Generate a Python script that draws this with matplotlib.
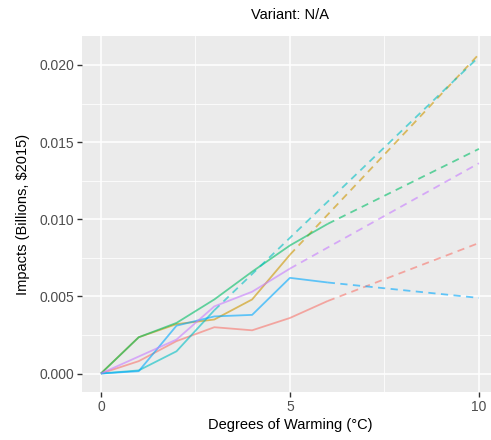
import matplotlib
matplotlib.use("Agg")
import matplotlib.pyplot as plt

plt.rcParams['font.family'] = ['Liberation Sans', 'DejaVu Sans']

# solid part (observed) and dashed part (extrapolated) of each line
red_x = [0, 1, 2, 3, 4, 5, 6]
red_y = [0.0, 0.0008, 0.0021, 0.0030, 0.0028, 0.0036, 0.0047]
red_dx = [6, 10]
red_dy = [0.0047, 0.00846]

gold_x = [0, 1, 2, 3, 4, 5]
gold_y = [0.0, 0.00235, 0.0032, 0.0035, 0.0048, 0.0077]
gold_dx = [5, 10]
gold_dy = [0.0077, 0.0207]

green_x = [0, 1, 2, 3, 4, 5, 6]
green_y = [0.0, 0.00235, 0.00328, 0.0048, 0.0066, 0.0083, 0.0097]
green_dx = [6, 10]
green_dy = [0.0097, 0.01456]

cyan_x = [0, 1, 2, 3]
cyan_y = [0.0, 0.0002, 0.00144, 0.0041]
cyan_dx = [3, 10]
cyan_dy = [0.0041, 0.02053]

blue_x = [0, 1, 2, 3, 4, 5, 6]
blue_y = [0.0, 0.00015, 0.0031, 0.0037, 0.0038, 0.0062, 0.0059]
blue_dx = [6, 10]
blue_dy = [0.0059, 0.0049]

purple_x = [0, 1, 2, 3, 4, 5]
purple_y = [0.0, 0.0011, 0.0022, 0.00435, 0.0053, 0.0068]
purple_dx = [5, 10]
purple_dy = [0.0068, 0.01363]

series = [
    (red_x, red_y, red_dx, red_dy, '#F8766D'),
    (gold_x, gold_y, gold_dx, gold_dy, '#CD9600'),
    (green_x, green_y, green_dx, green_dy, '#00BE67'),
    (cyan_x, cyan_y, cyan_dx, cyan_dy, '#00BFC4'),
    (blue_x, blue_y, blue_dx, blue_dy, '#00A9FF'),
    (purple_x, purple_y, purple_dx, purple_dy, '#C77CFF'),
]

fig = plt.figure(figsize=(4.91, 4.40), dpi=100)
ax = fig.add_axes([0.167, 0.108, 0.847, 0.811])
ax.set_facecolor('#EBEBEB')

for x, y, dx, dy, c in series:
    ax.plot(x, y, color=c, lw=1.3, alpha=0.6, solid_capstyle='butt')
    ax.plot(dx, dy, color=c, lw=1.3, alpha=0.6, linestyle=(0, (4, 3)))

ax.set_xlim(-0.5, 10.5)
ax.set_ylim(-0.00123, 0.0219)
ax.set_xticks([0, 5, 10])
ax.set_xticks([2.5, 7.5], minor=True)
ax.set_yticks([0.0, 0.005, 0.010, 0.015, 0.020])
ax.set_yticks([0.0025, 0.0075, 0.0125, 0.0175], minor=True)
ax.set_yticklabels(['0.000', '0.005', '0.010', '0.015', '0.020'])
ax.grid(which='major', color='white', lw=1.1)
ax.grid(which='minor', color='white', lw=0.55)
ax.set_axisbelow(True)
for s in ax.spines.values():
    s.set_visible(False)
ax.tick_params(which='major', length=3.5, width=1, color='#333333',
               labelcolor='#4D4D4D', labelsize=10, pad=2)
ax.tick_params(which='minor', length=0)

ax.set_xlabel('Degrees of Warming (°C)', fontsize=10.5, labelpad=3)
ax.set_ylabel('Impacts (Billions, $2015)', fontsize=10.5, labelpad=7)
ax.set_title('Variant: N/A', fontsize=10.5, pad=12)

fig.savefig('out.png', dpi=100)
